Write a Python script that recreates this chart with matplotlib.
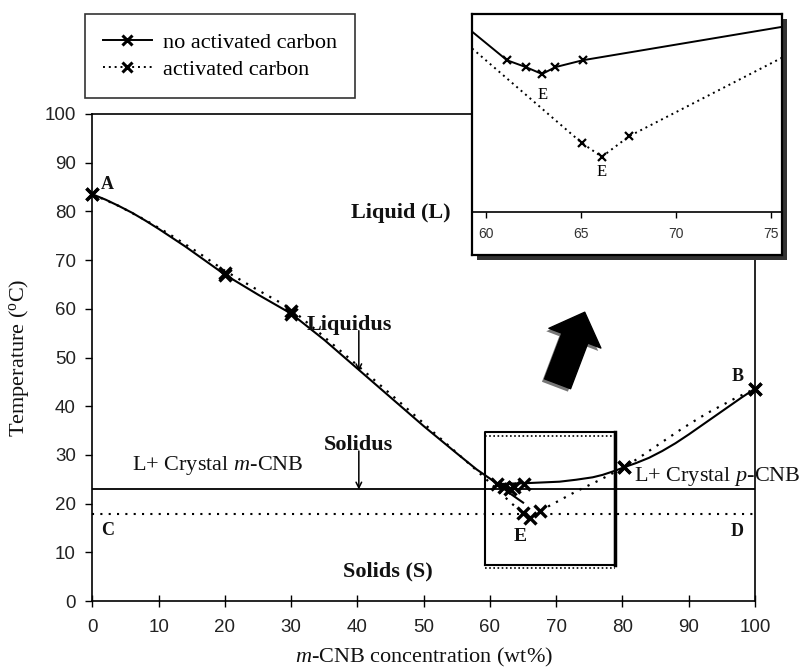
import matplotlib
matplotlib.use("Agg")
import matplotlib.pyplot as plt
from matplotlib.patches import Rectangle
from matplotlib.lines import Line2D

# ---------------- data ----------------
# measured points, no activated carbon
noac_x = [0, 20, 30, 61.1, 62.1, 62.95, 63.65, 65.1, 80.3, 100]
noac_t = [83.5, 67.0, 59.0, 24.0, 23.5, 23.0, 23.5, 24.0, 27.5, 43.6]
# measured points, activated carbon
ac_x = [0, 20, 30, 65.05, 66.1, 67.55, 80.3, 100]
ac_t = [83.5, 67.4, 59.5, 18.0, 17.0, 18.5, 27.5, 43.6]

# smoothed curves as traced on the main chart
noac_left_x = [0, 2, 4, 6, 8, 10, 12, 14, 17, 20, 25, 30, 35, 40, 45, 50, 55, 58, 61.1, 63, 65]
noac_left_t = [83.5, 82.4, 81.1, 79.7, 78.1, 76.4, 74.6, 72.8, 69.9, 67.0, 62.9, 59.0, 53.6,
               47.7, 41.8, 35.9, 30.3, 27.0, 24.1, 22.1, 20.2]
noac_right_x = [61.1, 63, 65.5, 70.5, 73, 75.5, 77, 79, 80.3, 82, 84, 86, 88, 90, 92, 94, 96, 98, 100]
noac_right_t = [24.0, 24.1, 24.2, 24.5, 24.9, 25.4, 25.9, 26.8, 27.5, 28.3, 29.4, 30.8, 32.4,
                34.2, 36.1, 38.0, 39.9, 41.8, 43.6]
ac_curve_x = [0, 4, 8, 11.4, 15.9, 20, 24.5, 28.7, 30, 34.3, 39.8, 45.4, 49.4, 52, 55.5, 58, 61,
              63.2, 65.05, 66.1, 67.55, 70, 73, 76.5, 80.3, 82.6, 84.1, 86.6, 89, 91.6, 93.1, 96.7, 100]
ac_curve_t = [83.5, 81.1, 78.2, 75.5, 71.6, 67.8, 64.2, 61.0, 59.9, 55.0, 48.6, 42.0, 37.2, 34.0,
              29.8, 26.8, 23.0, 20.1, 18.0, 17.0, 18.5, 20.3, 22.5, 24.8, 27.5, 29.5, 30.9, 33.2,
              35.4, 37.6, 38.8, 41.4, 43.6]

# eutectic (solidus) temperatures
solidus_noac = 23.0
solidus_ac = 17.8

# zoomed region (x0, x1, t0, t1)
zoom_region = (59.3, 78.8, 7.4, 34.7)

x_ticks = [0, 10, 20, 30, 40, 50, 60, 70, 80, 90, 100]
y_ticks = [0, 10, 20, 30, 40, 50, 60, 70, 80, 90, 100]
inset_ticks = [60, 65, 70, 75]

# ---------------- styling ----------------
SERIF = "Liberation Serif"
SANS = "Liberation Sans"
plt.rcParams["mathtext.fontset"] = "custom"
plt.rcParams["mathtext.rm"] = SERIF
plt.rcParams["mathtext.it"] = SERIF + ":italic"
plt.rcParams["mathtext.bf"] = SERIF + ":bold"

W, H = 803, 671
fig = plt.figure(figsize=(W / 100, H / 100), dpi=100)
fig.patch.set_facecolor("white")


def fx(px):
    return px / W


def fy(py):
    return 1 - py / H


ax = fig.add_axes([fx(92.5), fy(601), fx(755) - fx(92.5), fy(114) - fy(601)])
ax.set_xlim(0, 100)
ax.set_ylim(0, 100)
for s in ax.spines.values():
    s.set_linewidth(1.2)
ax.set_xticks(x_ticks)
ax.set_yticks(y_ticks)
ax.tick_params(axis="x", direction="inout", length=8, width=1, labelsize=13.5, pad=9,
               labelcolor="#222")
ax.tick_params(axis="y", direction="out", length=5, width=1, labelsize=13.5, pad=7,
               labelcolor="#222")
for lab in ax.get_xticklabels() + ax.get_yticklabels():
    lab.set_fontfamily(SANS)

lw = 1.5
# horizontal solidus lines
ax.plot([0, 100], [solidus_noac] * 2, color="black", lw=1.3)
ax.plot([0, 100], [solidus_ac] * 2, color="black", lw=1.5, ls=(0, (1, 3)))

# curves
ax.plot(noac_left_x, noac_left_t, color="black", lw=lw)
ax.plot(noac_right_x, noac_right_t, color="black", lw=lw)
ax.plot(ac_curve_x, ac_curve_t, color="black", lw=1.6, ls=(0, (1, 3)))

# markers
mk = dict(ls="none", marker="x", color="black", ms=9, mew=2.4, clip_on=False, zorder=4)
ax.plot(noac_x, noac_t, **mk)
ax.plot(ac_x, ac_t, **mk)

# zoom box
x0, x1, t0, t1 = zoom_region
ax.plot([x0, x1, x1, x0, x0], [t0, t0, t1, t1, t0], color="black", lw=1.5)
ax.plot([x1, x1], [t0, t1], color="black", lw=2.5)
ax.plot([x0, x1], [t1 - 0.8, t1 - 0.8], color="black", lw=1.2, ls=(0, (1, 1.5)))
ax.plot([x0, x1], [t0 - 0.7, t0 - 0.7], color="black", lw=1.2, ls=(0, (1, 1.5)))

# big arrow pointing to the inset
ax.annotate("", xy=(73.9, 58.7), xytext=(69.8, 44.0),
            arrowprops=dict(arrowstyle="simple,head_length=1.0,head_width=2.0,tail_width=1.0",
                            fc="#777", ec="none", mutation_scale=20, shrinkA=0, shrinkB=0))
ax.annotate("", xy=(74.3, 59.3), xytext=(70.2, 44.6),
            arrowprops=dict(arrowstyle="simple,head_length=1.0,head_width=2.0,tail_width=1.0",
                            fc="black", ec="black", mutation_scale=20, shrinkA=0, shrinkB=0))

# labels in the diagram
bold = dict(fontfamily=SERIF, fontweight="bold", color="#111")
ax.text(1.2, 85.6, "A", fontsize=13, ha="left", va="center", **bold)
ax.text(98.3, 46.2, "B", fontsize=13, ha="right", va="center", **bold)
ax.text(1.3, 14.4, "C", fontsize=13, ha="left", va="center", **bold)
ax.text(98.3, 14.3, "D", fontsize=13, ha="right", va="center", **bold)
ax.text(64.5, 13.3, "E", fontsize=14, ha="center", va="center", **bold)
ax.text(46.5, 79.7, "Liquid (L)", fontsize=16, ha="center", va="center", **bold)
ax.text(38.8, 56.7, "Liquidus", fontsize=16, ha="center", va="center", **bold)
ax.text(40.1, 32.0, "Solidus", fontsize=16, ha="center", va="center", **bold)
ax.text(44.6, 6.0, "Solids (S)", fontsize=16, ha="center", va="center", **bold)
ax.text(6.0, 27.9, r"L+ Crystal $\mathit{m}$-CNB", fontsize=16, ha="left", va="center",
        fontfamily=SERIF, color="#111")
ax.text(81.8, 25.6, r"L+ Crystal $\mathit{p}$-CNB", fontsize=16, ha="left", va="center",
        fontfamily=SERIF, color="#111", clip_on=False)

arr = dict(arrowstyle="->", color="black", lw=1.1, shrinkA=0, shrinkB=0)
ax.annotate("", xy=(40.2, 47.2), xytext=(40.2, 55.5), arrowprops=arr)
ax.annotate("", xy=(40.2, 22.9), xytext=(40.2, 30.8), arrowprops=arr)

ax.set_xlabel(r"$\mathit{m}$-CNB concentration (wt%)", fontfamily=SERIF, fontsize=16,
              labelpad=7, color="#111")
ax.set_ylabel(r"Temperature ($^{\rm o}$C)", fontfamily=SERIF, fontsize=16, labelpad=10,
              color="#111")

# legend (above the plot)
handles = [Line2D([], [], color="black", ls="-", lw=1.4, marker="x", ms=7, mew=2.2),
           Line2D([], [], color="black", ls=(0, (1, 2)), lw=1.4, marker="x", ms=7, mew=2.2)]
leg = ax.legend(handles, ["no activated carbon", "activated carbon"], loc="center",
                bbox_to_anchor=(fx(220), fy(56)), bbox_transform=fig.transFigure,
                prop={"family": SERIF, "size": 16}, frameon=True, fancybox=False,
                edgecolor="black", handlelength=2.2, borderpad=0.8, labelspacing=0.3,
                handletextpad=0.5)
leg.get_frame().set_linewidth(1.2)
leg.set_zorder(10)

# ---------------- inset ----------------
shadow = Rectangle((fx(477), fy(260)), fx(782) - fx(471.7), fy(14) - fy(255),
                   transform=fig.transFigure, facecolor="#333", edgecolor="none", zorder=4.9)
fig.add_artist(shadow)
frame = fig.add_axes([fx(471.7), fy(255), fx(782) - fx(471.7), fy(14) - fy(255)], zorder=5)
frame.set_xticks([])
frame.set_yticks([])
for s in frame.spines.values():
    s.set_linewidth(1.6)
frame.set_facecolor("white")

ins = fig.add_axes([fx(471.7), fy(212), fx(782) - fx(471.7), fy(14) - fy(212)], zorder=6)
ins.set_facecolor("none")
ins.set_xlim(59.24, 75.6)
ins.set_ylim(13.0, 27.35)
for k in ["top", "left", "right"]:
    ins.spines[k].set_visible(False)
ins.spines["bottom"].set_linewidth(1.2)
ins.set_yticks([])
ins.set_xticks(inset_ticks)
ins.tick_params(axis="x", direction="out", length=4, width=1, labelsize=10, pad=7,
                labelcolor="#333")
for lab in ins.get_xticklabels():
    lab.set_fontfamily(SANS)
ins.plot(noac_x, noac_t, color="black", lw=1.4, marker="x", ms=6, mew=1.6)
ins.plot(ac_x, ac_t, color="black", lw=1.4, ls=(0, (1, 2)), marker="x", ms=6, mew=1.6)
ins.text(63.0, 21.5, "E", fontsize=12, fontfamily=SERIF, ha="center", va="center")
ins.text(66.1, 15.9, "E", fontsize=12, fontfamily=SERIF, ha="center", va="center")

fig.savefig("out.png", dpi=100)
